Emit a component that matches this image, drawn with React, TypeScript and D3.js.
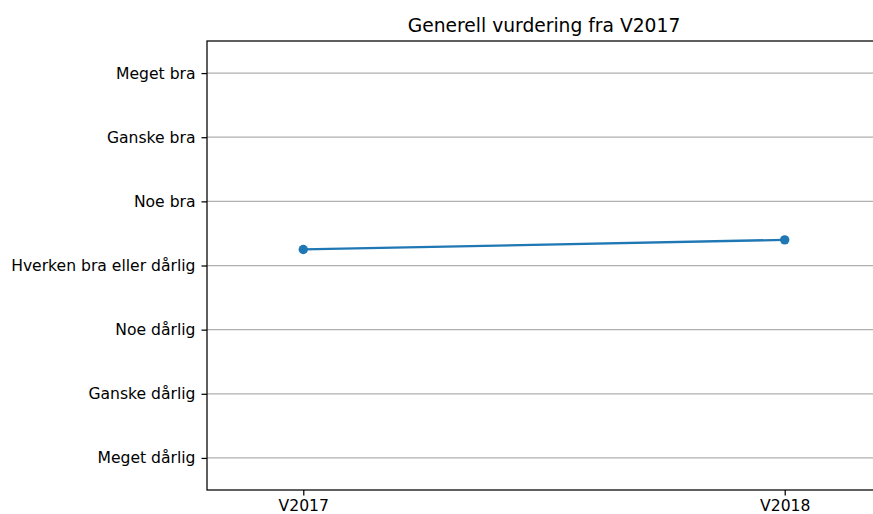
import React, { useEffect, useRef } from 'react';
import * as d3 from 'd3';

// rating scale, bottom to top
const levels = [
  'Meget dårlig',
  'Ganske dårlig',
  'Noe dårlig',
  'Hverken bra eller dårlig',
  'Noe bra',
  'Ganske bra',
  'Meget bra',
];
const semesters = ['V2017', 'V2018'];
const scores = [4.25, 4.40];

const W = 873;
const H = 514;

const App = () => {
  const ref = useRef<SVGSVGElement | null>(null);

  useEffect(() => {
    if (!ref.current) return;
    const margin = { top: 41, right: -8, bottom: 24, left: 207 };
    const width = W - margin.left - margin.right;
    const height = H - margin.top - margin.bottom;

    const root = d3.select(ref.current);
    root.selectAll('*').remove();
    const svg = root.append('g').attr('transform', `translate(${margin.left},${margin.top})`);

    const x = d3.scaleLinear().domain([-0.2, semesters.length - 1 + 0.2]).range([0, width]);
    const y = d3.scaleLinear().domain([0.5, levels.length + 0.5]).range([height, 0]);
    const font = "'DejaVu Sans', sans-serif";

    // grid lines
    svg.append('g')
      .selectAll('line')
      .data(levels)
      .join('line')
      .attr('x1', 0)
      .attr('x2', width)
      .attr('y1', (_, i) => y(i + 1))
      .attr('y2', (_, i) => y(i + 1))
      .attr('stroke', '#b0b0b0')
      .attr('stroke-width', 1.25);

    // y axis
    const yAxis = svg.append('g')
      .call(d3.axisLeft(y)
        .tickValues(levels.map((_, i) => i + 1))
        .tickFormat((d) => levels[(d as number) - 1])
        .tickSize(5.5)
        .tickPadding(6));
    yAxis.select('.domain').remove();
    yAxis.selectAll('line').attr('stroke', '#000').attr('stroke-width', 1.25);
    yAxis.selectAll('text').style('font-family', font).style('font-size', '15.6px').attr('fill', '#000');

    // x axis
    const xAxis = svg.append('g')
      .attr('transform', `translate(0,${height})`)
      .call(d3.axisBottom(x)
        .tickValues(semesters.map((_, i) => i))
        .tickFormat((d) => semesters[d as number])
        .tickSize(5.5)
        .tickPadding(4));
    xAxis.select('.domain').remove();
    xAxis.selectAll('line').attr('stroke', '#000').attr('stroke-width', 1.25);
    xAxis.selectAll('text').style('font-family', font).style('font-size', '15.6px').attr('fill', '#000');

    // frame
    svg.append('rect')
      .attr('x', 0)
      .attr('y', 0)
      .attr('width', width)
      .attr('height', height)
      .attr('fill', 'none')
      .attr('stroke', '#000')
      .attr('stroke-width', 1.25);

    // line and markers
    const line = d3.line<number>()
      .x((_, i) => x(i))
      .y((d) => y(d));
    svg.append('path')
      .datum(scores)
      .attr('fill', 'none')
      .attr('stroke', '#1f77b4')
      .attr('stroke-width', 2.3)
      .attr('d', line);
    svg.append('g')
      .selectAll('circle')
      .data(scores)
      .join('circle')
      .attr('cx', (_, i) => x(i))
      .attr('cy', (d) => y(d))
      .attr('r', 4.7)
      .attr('fill', '#1f77b4');

    // title
    svg.append('text')
      .attr('x', width / 2)
      .attr('y', -9.5)
      .attr('text-anchor', 'middle')
      .style('font-family', font)
      .style('font-size', '18.7px')
      .attr('fill', '#000')
      .text('Generell vurdering fra V2017');
  }, []);

  return (
    <svg
      ref={ref}
      width={W}
      height={H}
      style={{ position: 'absolute', left: 0, top: 0, background: '#fff' }}
    />
  );
};

export default App;
